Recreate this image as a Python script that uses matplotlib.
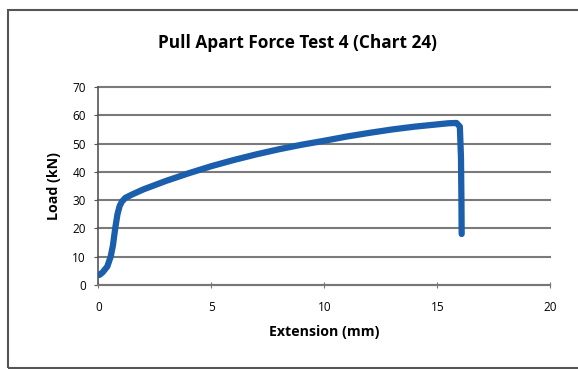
import matplotlib.pyplot as plt
from matplotlib.patches import Rectangle

# extension (mm) and load (kN)
extension = [0.05, 0.2, 0.4, 0.55, 0.65, 0.75, 0.85, 0.95, 1.05, 1.2, 1.5, 2.0, 2.5, 3.0,
             4.0, 5.0, 6.0, 7.0, 8.0, 9.0, 10.0, 11.0, 12.0, 13.0, 14.0, 15.0, 15.5,
             15.85, 16.0, 16.05, 16.07, 16.08]
load = [3.5, 4.5, 6.5, 10.0, 14.0, 20.0, 25.0, 28.0, 29.5, 30.8, 32.0, 33.8, 35.3, 36.8,
        39.5, 42.0, 44.2, 46.2, 48.0, 49.6, 51.0, 52.5, 53.8, 55.0, 56.0, 56.8, 57.2,
        57.3, 56.0, 45.0, 30.0, 18.0]

xticks = [0, 5, 10, 15, 20]
yticks = [0, 10, 20, 30, 40, 50, 60, 70]

plt.rcParams['font.family'] = ['Open Sans', 'DejaVu Sans']

fig = plt.figure(figsize=(5.78, 3.69), dpi=100)
ax = fig.add_axes([0.170, 0.228, 0.782, 0.536])

ax.plot(extension, load, color='#1b5eab', lw=4.5, solid_capstyle='round',
        solid_joinstyle='round', zorder=3)

ax.set_xlim(0, 20)
ax.set_ylim(0, 70)
ax.set_xticks(xticks)
ax.set_yticks(yticks)
ax.grid(axis='y', color='#7a7a7a', lw=1.5)
for gl in ax.get_ygridlines():
    gl.set_clip_on(False)
ax.set_axisbelow(True)
for s in ['top', 'right']:
    ax.spines[s].set_visible(False)
ax.spines['left'].set_color('#555555')
ax.spines['bottom'].set_color('#777777')
ax.spines['left'].set_linewidth(1.2)
ax.spines['bottom'].set_linewidth(1.5)
ax.tick_params(axis='y', length=3, color='#555555', labelsize=8.5, pad=6)
ax.tick_params(axis='x', direction='inout', length=5, color='#777777', labelsize=8.5, pad=9)

ax.set_xlabel('Extension (mm)', fontsize=10.2, fontweight='bold', labelpad=8)
ax.set_ylabel('Load (kN)', fontsize=10.2, fontweight='bold', labelpad=8)
fig.text(0.514, 0.883, 'Pull Apart Force Test 4 (Chart 24)', ha='center', va='center',
         fontsize=12.4, fontweight='bold')

fig.patches.append(Rectangle((8 / 578, 1 / 369), 1.5, 1 - 11 / 369, transform=fig.transFigure,
                             fill=False, edgecolor='#555555', lw=1.5))

fig.savefig('out.png', dpi=100)
